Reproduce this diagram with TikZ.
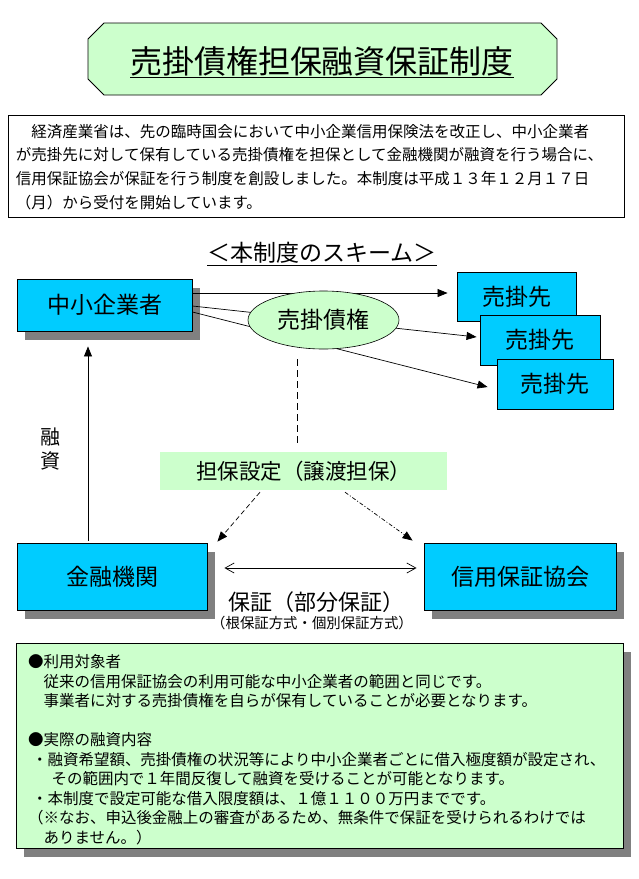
\documentclass[tikz,border=0pt]{standalone}
\usepackage{fontspec}
\setmainfont{Noto Sans CJK JP}
\usetikzlibrary{arrows.meta,positioning,shapes.geometric,shadows}

\definecolor{boxcyan}{HTML}{00CCFF}
\definecolor{palegreen}{HTML}{CCFFCC}
\definecolor{shadowgray}{HTML}{808080}

\begin{document}
\begin{tikzpicture}[x=1pt,y=-1pt,
  >={Triangle[length=10pt,width=8pt]},
  box/.style={draw,line width=0.9pt,fill=boxcyan,inner sep=0pt,font=\fontsize{23}{27}\selectfont},
  shadowed/.style={drop shadow={shadow xshift=8pt,shadow yshift=-9pt,fill=shadowgray,opacity=1}},
  line/.style={line width=0.7pt},
  body/.style={font=\fontsize{15.5}{23.7}\selectfont}]

\useasboundingbox (0,0) rectangle (639,879);

% title plate
\draw[line width=0.8pt,fill=palegreen] (88,39) -- (104,23) -- (541,23) -- (557,39) -- (557,79) -- (541,95) -- (104,95) -- (88,79) -- cycle;
\node(title) at (322,62) {\fontsize{32}{36}\selectfont\underline{売掛債権担保融資保証制度}};

\node(intro)[draw,line width=0.8pt,minimum height=102pt,text width=600pt,inner xsep=8pt,align=left,body] at (316,166)
{\rule{0pt}{15pt}　経済産業省は、先の臨時国会において中小企業信用保険法を改正し、中小企業者\\
が売掛先に対して保有している売掛債権を担保として金融機関が融資を行う場合に、\\
信用保証協会が保証を行う制度を創設しました。本制度は平成１３年１２月１７日\\
（月）から受付を開始しています。};

\node(scheme) at (322,254) {\fontsize{23}{27}\selectfont\underline{＜本制度のスキーム＞}};

% parties
\node(sme)[box,shadowed,minimum width=175pt,minimum height=52pt] at (104.5,305) {中小企業者};

\node(saleA)[box,minimum width=119pt,minimum height=49pt] at (516.5,296.5) {売掛先};
\node(saleB)[box,minimum width=120pt,minimum height=50pt] at (540,340) {売掛先};
\node(saleC)[box,minimum width=116pt,minimum height=50pt] at (555,384) {売掛先};

\node(bank)[box,shadowed,minimum width=190pt,minimum height=67pt] at (112,576.5) {金融機関};
\node(guarantor)[box,shadowed,minimum width=192pt,minimum height=67pt] at (520,576.5) {信用保証協会};

\draw [line,->] ([yshift=12pt]sme.east) -- ([xshift=-9pt,yshift=3.5pt]saleA.west);
\draw [line,->] ([yshift=-1pt]sme.east) -- ([xshift=-3pt,yshift=3pt]saleB.west);
\draw [line,->] ([yshift=-7pt]sme.east) -- ([xshift=-9pt,yshift=-3pt]saleC.west);

\node(receivable)[ellipse,draw,line width=0.6pt,fill=palegreen,minimum width=151pt,minimum height=58pt,inner sep=0pt,font=\fontsize{23}{27}\selectfont] at (323.5,320) {売掛債権};

\node(secure)[fill=palegreen,minimum width=287pt,minimum height=38pt,inner sep=0pt,font=\fontsize{21.5}{26}\selectfont] at (303.5,471) {担保設定（譲渡担保）};

\draw [line,dash pattern=on 7pt off 4pt] ([xshift=-26.5pt,yshift=-10pt]receivable.south) -- ([xshift=-6.5pt,yshift=7pt]secure.north);

\draw [line,->,dash pattern=on 5pt off 3pt] ([xshift=-43.5pt,yshift=-2pt]secure.south) -- ([xshift=10pt,yshift=1pt]bank.north east);
\draw [line,->,dash pattern=on 4pt off 2pt on 1pt off 2pt] ([xshift=41.5pt,yshift=-2pt]secure.south) -- ([xshift=-11pt,yshift=2pt]guarantor.north west);

\draw [line,{Straight Barb[length=9pt,width=10pt]}-{Straight Barb[length=9pt,width=10pt]}] ([xshift=17pt,yshift=8.5pt]bank.east) -- ([xshift=-7pt,yshift=8.5pt]guarantor.west);

\node(guarantee)[font=\fontsize{22}{26}\selectfont] at (316,602) {保証（部分保証）};
\node(kinds)[font=\fontsize{14.4}{17}\selectfont] at (312,623) {（根保証方式・個別保証方式）};

\draw [line,->] ([xshift=-24pt,yshift=2pt]bank.north) -- ([xshift=-16.5pt,yshift=-15pt]sme.south);
\node(loan)[align=center,font=\fontsize{20}{24}\selectfont] at (50,449) {融\\資};

% notes
\node(notes)[draw,line width=0.8pt,fill=palegreen,shadowed,minimum height=205pt,text width=583pt,inner xsep=12pt,align=left,font=\fontsize{15.5}{19.5}\selectfont] at (319.5,745.5)
{\rule{0pt}{21pt}●利用対象者\\
　従来の信用保証協会の利用可能な中小企業者の範囲と同じです。\\
　事業者に対する売掛債権を自らが保有していることが必要となります。\\[19.5pt]
●実際の融資内容\\
\hspace*{4pt}・融資希望額、売掛債権の状況等により中小企業者ごとに借入極度額が設定され、\\
\hspace*{8pt}　その範囲内で１年間反復して融資を受けることが可能となります。\\
\hspace*{4pt}・本制度で設定可能な借入限度額は、１億１１００万円までです。\\
（※なお、申込後金融上の審査があるため、無条件で保証を受けられるわけでは\\
　ありません。）};

\end{tikzpicture}
\end{document}
